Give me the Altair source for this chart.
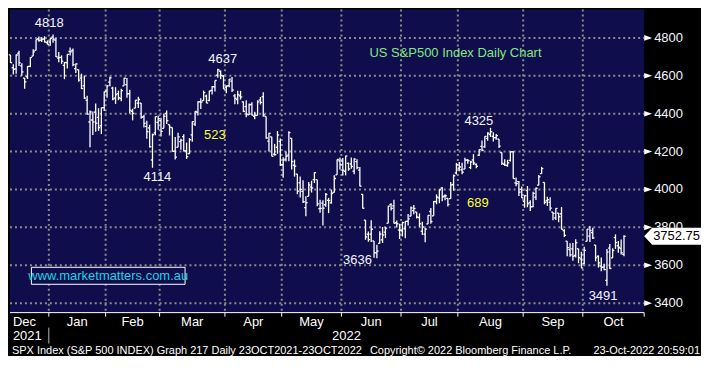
import altair as alt
import pandas as pd

# ---------------- data ----------------
trading_days = {
    "2021-12": [13, 14, 15, 16, 17, 20, 21, 22, 23, 27, 28, 29, 30, 31],
    "2022-01": [3, 4, 5, 6, 7, 10, 11, 12, 13, 14, 18, 19, 20, 21, 24, 25, 26, 27, 28, 31],
    "2022-02": [1, 2, 3, 4, 7, 8, 9, 10, 11, 14, 15, 16, 17, 18, 22, 23, 24, 25, 28],
    "2022-03": [1, 2, 3, 4, 7, 8, 9, 10, 11, 14, 15, 16, 17, 18, 21, 22, 23, 24, 25, 28, 29, 30, 31],
    "2022-04": [1, 4, 5, 6, 7, 8, 11, 12, 13, 14, 18, 19, 20, 21, 22, 25, 26, 27, 28, 29],
    "2022-05": [2, 3, 4, 5, 6, 9, 10, 11, 12, 13, 16, 17, 18, 19, 20, 23, 24, 25, 26, 27, 31],
    "2022-06": [1, 2, 3, 6, 7, 8, 9, 10, 13, 14, 15, 16, 17, 21, 22, 23, 24, 27, 28, 29, 30],
    "2022-07": [1, 5, 6, 7, 8, 11, 12, 13, 14, 15, 18, 19, 20, 21, 22, 25, 26, 27, 28, 29],
    "2022-08": [1, 2, 3, 4, 5, 8, 9, 10, 11, 12, 15, 16, 17, 18, 19, 22, 23, 24, 25, 26, 29, 30, 31],
    "2022-09": [1, 2, 6, 7, 8, 9, 12, 13, 14, 15, 16, 19, 20, 21, 22, 23, 26, 27, 28, 29, 30],
    "2022-10": [3, 4, 5, 6, 7, 10, 11, 12, 13, 14, 17, 18, 19, 20, 21],
}

opens = [
    4710.30, 4642.99, 4636.46, 4719.13, 4652.50, 4587.90, 4594.96, 4650.36, 4703.96, 4733.99, 4795.49, 4788.64, 4794.23, 4775.21,
    4778.14, 4804.51, 4787.99, 4693.39, 4697.66, 4655.34, 4669.14, 4728.59, 4733.56, 4637.99, 4632.24, 4588.03, 4547.35, 4471.38, 4356.32, 4366.64, 4408.43, 4380.58, 4336.19, 4431.79,
    4519.57, 4566.39, 4535.41, 4482.79, 4505.75, 4480.02, 4547.00, 4553.24, 4506.27, 4412.61, 4429.28, 4455.75, 4456.06, 4384.57, 4332.74, 4324.93, 4155.77, 4298.38, 4354.17,
    4363.14, 4322.56, 4401.31, 4342.12, 4327.01, 4202.66, 4223.10, 4252.55, 4279.50, 4202.75, 4188.82, 4288.14, 4345.11, 4407.34, 4462.40, 4469.10, 4493.10, 4469.98, 4522.66, 4541.09, 4602.86, 4624.20, 4599.02,
    4540.32, 4547.97, 4572.45, 4494.17, 4474.65, 4494.15, 4462.64, 4437.59, 4394.30, 4449.12, 4385.63, 4390.63, 4472.26, 4489.17, 4385.83, 4255.34, 4278.14, 4186.52, 4222.58, 4253.75,
    4130.61, 4159.78, 4181.18, 4270.43, 4128.17, 4081.27, 4035.18, 3990.08, 3903.95, 3963.90, 4013.02, 4052.00, 4051.98, 3899.00, 3927.76, 3919.42, 3942.94, 3929.59, 3984.60, 4077.43, 4151.09,
    4149.78, 4095.41, 4137.57, 4134.72, 4096.47, 4147.12, 4101.65, 3974.39, 3838.15, 3763.52, 3764.05, 3728.18, 3665.90, 3715.31, 3733.89, 3774.71, 3821.75, 3920.76, 3913.00, 3825.09, 3785.99,
    3781.00, 3792.61, 3831.98, 3858.85, 3888.26, 3880.94, 3851.95, 3779.67, 3763.99, 3818.00, 3883.79, 3860.73, 3935.32, 3955.47, 4007.39, 3965.72, 3953.22, 3951.43, 4026.13, 4087.33,
    4112.38, 4104.21, 4107.96, 4154.85, 4115.87, 4155.93, 4133.11, 4181.02, 4227.40, 4225.02, 4269.37, 4290.46, 4280.40, 4273.13, 4266.31, 4195.08, 4133.09, 4126.55, 4153.26, 4198.74, 4034.58, 4041.25, 4000.67,
    3936.73, 3994.66, 3930.89, 3909.43, 3959.94, 4022.94, 4083.67, 4037.12, 3940.73, 3932.41, 3880.95, 3849.91, 3875.23, 3871.40, 3782.36, 3727.14, 3682.72, 3686.44, 3651.94, 3687.01, 3633.48,
    3609.78, 3726.46, 3753.25, 3771.97, 3706.74, 3647.51, 3595.86, 3590.83, 3520.37, 3690.41, 3638.65, 3746.26, 3703.11, 3689.05, 3657.10,
]
highs = [
    4710.30, 4660.47, 4712.60, 4731.99, 4666.70, 4587.90, 4651.14, 4697.67, 4740.74, 4791.49, 4807.02, 4804.06, 4808.93, 4786.83,
    4796.64, 4818.62, 4797.70, 4725.01, 4707.95, 4673.02, 4714.13, 4748.83, 4744.13, 4665.13, 4632.24, 4611.55, 4602.11, 4494.52, 4417.35, 4411.01, 4453.23, 4428.74, 4432.72, 4516.89,
    4550.49, 4595.31, 4542.88, 4539.66, 4521.86, 4531.32, 4590.03, 4588.92, 4526.33, 4426.22, 4472.77, 4489.55, 4456.06, 4394.60, 4362.12, 4341.51, 4294.73, 4385.34, 4388.84,
    4378.45, 4401.48, 4416.78, 4342.12, 4327.01, 4276.94, 4299.40, 4268.28, 4291.01, 4247.57, 4271.05, 4358.90, 4412.67, 4465.40, 4481.75, 4522.00, 4501.07, 4520.58, 4546.03, 4575.65, 4637.30, 4627.77, 4603.07,
    4548.70, 4583.50, 4593.45, 4503.94, 4521.16, 4520.41, 4464.35, 4471.00, 4453.92, 4460.46, 4410.31, 4471.03, 4488.29, 4512.94, 4385.83, 4299.02, 4278.14, 4240.71, 4308.45, 4269.68,
    4169.81, 4200.10, 4307.66, 4270.43, 4157.69, 4081.27, 4068.82, 4049.09, 3964.80, 4038.88, 4046.46, 4090.72, 4051.98, 3945.96, 3943.42, 3981.88, 3955.68, 3999.33, 4075.14, 4158.49, 4168.34,
    4166.54, 4177.51, 4142.67, 4168.78, 4164.86, 4160.14, 4119.10, 3974.39, 3838.15, 3778.18, 3837.56, 3728.18, 3707.71, 3779.65, 3801.79, 3802.58, 3913.65, 3927.72, 3945.86, 3836.50, 3818.99,
    3829.82, 3832.19, 3870.91, 3910.63, 3918.50, 3880.94, 3873.41, 3829.44, 3796.41, 3863.62, 3902.44, 3939.81, 3974.13, 3999.29, 4012.44, 3975.30, 3953.22, 4039.56, 4078.95, 4140.15,
    4144.95, 4140.47, 4167.66, 4161.29, 4151.58, 4186.62, 4137.30, 4211.03, 4257.91, 4280.47, 4301.79, 4325.28, 4302.18, 4292.53, 4266.31, 4195.08, 4159.77, 4156.56, 4200.54, 4203.04, 4062.99, 4044.98, 4015.37,
    3970.23, 4018.43, 3942.55, 3987.89, 4010.50, 4076.81, 4119.28, 4037.12, 3961.94, 3959.14, 3880.95, 3900.45, 3876.01, 3907.07, 3790.28, 3727.14, 3715.67, 3717.53, 3736.74, 3687.01, 3671.44,
    3698.35, 3791.92, 3806.91, 3797.93, 3706.74, 3652.17, 3640.66, 3608.34, 3685.41, 3712.00, 3689.73, 3762.79, 3728.58, 3736.00, 3757.89,
]
lows = [
    4667.60, 4606.52, 4611.22, 4651.89, 4600.22, 4531.10, 4583.16, 4645.53, 4703.96, 4733.99, 4780.04, 4778.08, 4775.33, 4765.75,
    4758.17, 4774.27, 4699.44, 4671.26, 4662.74, 4582.24, 4638.27, 4706.71, 4650.29, 4614.75, 4568.70, 4530.20, 4477.95, 4395.34, 4222.62, 4287.11, 4304.80, 4309.50, 4292.46, 4414.02,
    4483.53, 4544.32, 4470.39, 4451.50, 4471.47, 4465.40, 4547.00, 4484.31, 4401.41, 4364.84, 4429.28, 4429.68, 4373.81, 4327.22, 4267.11, 4221.51, 4114.65, 4286.83, 4315.12,
    4279.54, 4322.56, 4345.56, 4284.98, 4199.85, 4157.87, 4223.10, 4209.80, 4200.49, 4161.72, 4187.90, 4251.99, 4335.65, 4390.57, 4424.30, 4469.10, 4455.81, 4465.17, 4501.07, 4517.69, 4589.66, 4581.32, 4530.41,
    4507.57, 4539.21, 4514.17, 4450.04, 4450.30, 4474.60, 4408.38, 4381.34, 4392.70, 4390.77, 4370.30, 4390.63, 4448.76, 4384.47, 4267.62, 4200.82, 4175.04, 4178.36, 4188.63, 4124.28,
    4062.51, 4147.08, 4148.91, 4106.01, 4067.91, 3975.48, 3958.17, 3928.82, 3858.87, 3963.90, 3983.99, 4033.93, 3911.91, 3876.58, 3810.32, 3909.04, 3875.13, 3925.03, 3984.60, 4077.43, 4104.88,
    4073.85, 4074.37, 4098.67, 4109.18, 4080.19, 4107.20, 4017.17, 3900.16, 3734.30, 3724.30, 3722.30, 3639.77, 3636.87, 3715.31, 3717.69, 3743.52, 3821.75, 3889.66, 3820.14, 3799.02, 3738.67,
    3752.10, 3742.06, 3809.37, 3858.85, 3869.34, 3847.22, 3802.36, 3759.07, 3721.56, 3817.18, 3818.63, 3860.73, 3922.03, 3927.64, 3938.24, 3943.46, 3910.74, 3951.43, 3992.97, 4079.22,
    4096.02, 4079.81, 4107.96, 4135.42, 4107.31, 4128.97, 4112.09, 4177.26, 4201.41, 4219.78, 4256.90, 4277.77, 4253.08, 4261.98, 4218.70, 4129.86, 4124.03, 4119.97, 4147.59, 4057.66, 4017.42, 3965.21, 3954.53,
    3903.65, 3906.21, 3886.75, 3906.03, 3944.81, 4022.94, 4083.67, 3921.82, 3912.15, 3888.28, 3837.08, 3838.50, 3827.54, 3789.49, 3749.45, 3647.47, 3644.76, 3623.29, 3640.61, 3610.40, 3584.13,
    3604.93, 3726.46, 3722.66, 3739.22, 3620.73, 3588.10, 3568.45, 3573.86, 3491.58, 3579.68, 3638.65, 3686.53, 3666.51, 3656.44, 3647.42,
]
closes = [
    4668.97, 4634.09, 4709.85, 4668.67, 4620.64, 4568.02, 4649.23, 4696.56, 4725.79, 4791.19, 4786.35, 4793.06, 4778.73, 4766.18,
    4796.56, 4793.54, 4700.58, 4696.05, 4677.03, 4670.29, 4713.07, 4726.35, 4659.03, 4662.85, 4577.11, 4532.76, 4482.73, 4397.94, 4410.13, 4356.45, 4349.93, 4326.51, 4431.85, 4515.55,
    4546.54, 4589.38, 4477.44, 4500.53, 4483.87, 4521.54, 4587.18, 4504.08, 4418.64, 4401.67, 4471.07, 4475.01, 4380.26, 4348.87, 4304.76, 4225.50, 4288.70, 4384.65, 4373.94,
    4306.26, 4386.54, 4363.49, 4328.87, 4201.09, 4170.70, 4277.88, 4259.52, 4204.31, 4173.11, 4262.45, 4357.86, 4411.67, 4463.12, 4461.18, 4511.61, 4456.24, 4520.16, 4543.06, 4575.52, 4631.60, 4602.45, 4530.41,
    4545.86, 4582.64, 4525.12, 4481.15, 4500.21, 4488.28, 4412.53, 4397.45, 4446.59, 4392.59, 4391.69, 4462.21, 4459.45, 4393.66, 4271.78, 4296.12, 4175.20, 4183.96, 4287.50, 4131.93,
    4155.38, 4175.48, 4300.17, 4146.87, 4123.34, 3991.24, 4001.05, 3935.18, 3930.08, 4023.89, 4008.01, 4088.85, 3923.68, 3900.79, 3901.36, 3973.75, 3941.48, 3978.73, 4057.84, 4158.24, 4132.15,
    4101.23, 4176.82, 4108.54, 4121.43, 4160.68, 4115.77, 4017.82, 3900.86, 3749.63, 3735.48, 3789.99, 3666.77, 3674.84, 3764.79, 3759.89, 3795.73, 3911.74, 3900.11, 3821.55, 3818.83, 3785.38,
    3825.33, 3831.39, 3845.08, 3902.62, 3899.38, 3854.43, 3818.80, 3801.78, 3790.38, 3863.16, 3830.85, 3936.69, 3959.90, 3998.95, 3961.63, 3966.84, 3921.05, 4023.61, 4072.43, 4130.29,
    4118.63, 4091.19, 4155.17, 4151.94, 4145.19, 4140.06, 4122.47, 4210.24, 4207.27, 4280.15, 4297.14, 4305.20, 4274.04, 4283.74, 4228.48, 4137.99, 4128.73, 4140.77, 4199.12, 4057.66, 4030.61, 3986.16, 3955.00,
    3966.85, 3924.26, 3908.19, 3979.87, 4006.18, 4067.36, 4110.41, 3932.69, 3946.01, 3901.35, 3873.33, 3899.89, 3855.93, 3789.93, 3757.99, 3693.23, 3655.04, 3647.29, 3719.04, 3640.47, 3585.62,
    3678.43, 3790.93, 3783.28, 3744.52, 3639.66, 3612.39, 3588.84, 3577.03, 3669.91, 3583.07, 3677.95, 3719.98, 3695.16, 3665.78, 3752.75,
]

y_ticks = [3400, 3600, 3800, 4000, 4200, 4400, 4600, 4800]
y_minor_ticks = list(range(3400, 5000, 100))

chart_title = "US S&P500 Index Daily Chart"
website = "www.marketmatters.com.au"
footer_left = "SPX Index (S&P 500 INDEX) Graph 217  Daily 23OCT2021-23OCT2022"
footer_mid = "Copyright\u00a9 2022 Bloomberg Finance L.P."
footer_right = "23-Oct-2022 20:59:01"

# ---------------- layout / style ----------------
W, H = 636, 304
FONT = "Liberation Sans"
NAVY = "#0f0d4c"
GRID = "#8c8c8c"
ANN = "#f2f5ff"
YELLOW = "#ffff33"
GREEN = "#80e880"
CYAN = "#22d2e2"
XDOM = [-0.17, 223.1]
YDOM = [3350, 4950]


def sx(px):
    return px * W / 652


def sy(py):
    return py * H / 321


dates = [f"{ym}-{d:02d}" for ym, days in trading_days.items() for d in days]
n = len(dates)
assert all(len(a) == n for a in (opens, highs, lows, closes))

df = pd.DataFrame({
    "i": range(n),
    "date": pd.to_datetime(dates),
    "open": opens, "high": highs, "low": lows, "close": closes,
})
df["ym"] = df["date"].dt.strftime("%Y-%m")
df["mon"] = df["date"].dt.strftime("%b")
df["yr"] = df["date"].dt.strftime("%Y")

first_idx = df.groupby("ym")["i"].min().sort_index()
boundaries = [v - 0.5 for v in first_idx.values[1:]]
month_names = [df.loc[df["ym"] == ym, "mon"].iloc[0] for ym in first_idx.index]
starts = [XDOM[0]] + boundaries
ends = boundaries + [XDOM[1]]
mdf = pd.DataFrame({"m": month_names, "xm": [(a + b) / 2 for a, b in zip(starts, ends)]})

yr_first = df.groupby("yr")["i"].min().sort_index()
year_bounds = [v - 0.5 for v in yr_first.values[1:]]
years = list(yr_first.index)

xs = alt.Scale(domain=XDOM, nice=False, zero=False)
ys = alt.Scale(domain=YDOM, nice=False, zero=False)


def X(f):
    return alt.X(f, type="quantitative", scale=xs, axis=None)


def Y(f):
    return alt.Y(f, type="quantitative", scale=ys, axis=None)


one = pd.DataFrame({"a": [0]})

yaxis = alt.Axis(
    orient="right", values=y_minor_ticks, labels=False,
    tickSize=5, tickColor="white", tickWidth=1,
    domainColor="white", domainWidth=1,
    grid=False, title=None,
)

# gridlines
ygrid = alt.Chart(pd.DataFrame({"v": y_ticks})).mark_rule(
    color=GRID, strokeWidth=2, strokeDash=[2, 3]
).encode(y=Y("v"), x=alt.value(0), x2=alt.value(W))

bdf = pd.DataFrame({"b": boundaries})
vgrid = alt.Chart(bdf).mark_rule(
    color=GRID, strokeWidth=2, strokeDash=[2, 3]
).encode(x=X("b"), y=alt.value(0), y2=alt.value(H))

# OHLC bars
BW = 1.3
base = alt.Chart(df)
hl = base.mark_rule(color="white", strokeWidth=BW).encode(
    x=X("i"), y=alt.Y("low:Q", scale=ys, axis=yaxis), y2="high:Q"
)
op = base.transform_calculate(xo="datum.i - 0.6").mark_rule(color="white", strokeWidth=BW).encode(
    x=X("xo"), x2="i:Q", y=Y("open")
)
cl = base.transform_calculate(xc="datum.i + 0.6").mark_rule(color="white", strokeWidth=BW).encode(
    x=X("i"), x2="xc:Q", y=Y("close")
)

# bottom axis
xline = alt.Chart(one).mark_rule(color="white", strokeWidth=1).encode(
    x=alt.value(0), x2=alt.value(W), y=alt.value(H)
)
xticks = alt.Chart(bdf).mark_rule(color="white", strokeWidth=1).encode(
    x=X("b"), y=alt.value(H), y2=alt.value(H + 4)
)
corner_tick = alt.Chart(one).mark_rule(color="white", strokeWidth=1).encode(
    x=alt.value(W), y=alt.value(H), y2=alt.value(H + 4)
)
ysep = alt.Chart(pd.DataFrame({"b": year_bounds})).mark_rule(color="#b8b8b8", strokeWidth=1).encode(
    x=X("b"), y=alt.value(H + 15), y2=alt.value(H + 31)
)

txt = dict(font=FONT, fontSize=13, baseline="middle")

# right-axis labels
ylab = alt.Chart(pd.DataFrame({"v": y_ticks})).mark_text(align="left", color="#f4f6ff", **txt).encode(
    x=alt.value(W + 10), y=Y("v"), text=alt.Text("v:Q", format="d")
)

mfirst = alt.Chart(mdf.head(1)).mark_text(align="left", color="white", **txt).encode(
    x=alt.value(sx(3)), y=alt.value(H + 9), text="m:N"
)
mrest = alt.Chart(mdf.iloc[1:]).mark_text(align="center", color="white", **txt).encode(
    x=X("xm"), y=alt.value(H + 9), text="m:N"
)
y1 = alt.Chart(pd.DataFrame({"y": years[:1]})).mark_text(align="left", color="white", **txt).encode(
    x=alt.value(sx(3)), y=alt.value(H + 23), text="y:N"
)
y2df = pd.DataFrame({"y": years[1:], "xm": [(year_bounds[0] + XDOM[1]) / 2]})
y2 = alt.Chart(y2df).mark_text(align="center", color="white", **txt).encode(
    x=X("xm"), y=alt.value(H + 23), text="y:N"
)


# annotations derived from data
def extreme(col, start, end, fn):
    sub = df[(df["ym"] >= start) & (df["ym"] <= end)]
    row = sub.loc[sub[col].idxmax()] if fn == "max" else sub.loc[sub[col].idxmin()]
    return int(row["i"]), float(row[col])


pk1 = extreme("high", "2021-12", "2022-01", "max")
tr1 = extreme("low", "2022-02", "2022-02", "min")
pk2 = extreme("high", "2022-03", "2022-04", "max")
tr2 = extreme("low", "2022-06", "2022-06", "min")
pk3 = extreme("high", "2022-08", "2022-08", "max")
tr3 = extreme("low", "2022-10", "2022-10", "min")

annotations = [
    (pk1, str(int(pk1[1])), ANN, -4, -12),
    (pk2, str(int(pk2[1])), ANN, 5, -10.5),
    (tr1, str(int(tr1[1])), ANN, 5, 10),
    (pk3, str(int(pk3[1])), ANN, -12, -7),
    (tr2, str(int(tr2[1])), ANN, -20, 2),
    (tr3, str(int(tr3[1])), ANN, -4, 11),
    (pk2, str(int(pk2[1]) - int(tr1[1])), YELLOW, -3, 70.5),
    (pk3, str(int(pk3[1]) - int(tr2[1])), YELLOW, -13, 80),
]
ann_layers = []
for (ix, val), label, color, dx, dy in annotations:
    adf = pd.DataFrame({"x": [ix], "v": [val], "t": [label]})
    ann_layers.append(
        alt.Chart(adf).mark_text(align="center", color=color, dx=sx(dx), dy=sy(dy), **txt).encode(
            x=X("x"), y=Y("v"), text="t:N"
        )
    )

title = alt.Chart(pd.DataFrame({"t": [chart_title]})).mark_text(align="center", color=GREEN, **txt).encode(
    x=alt.value(sx(458)), y=alt.value(sy(46)), text="t:N"
)
web_box = alt.Chart(one).mark_rect(fill=NAVY, stroke="white", strokeWidth=1).encode(
    x=alt.value(sx(22)), x2=alt.value(sx(180)), y=alt.value(sy(273)), y2=alt.value(sy(291))
)
web_txt = alt.Chart(pd.DataFrame({"t": [website]})).mark_text(align="center", color=CYAN, **txt).encode(
    x=alt.value(sx(101)), y=alt.value(sy(282)), text="t:N"
)

# right-axis markers
TRI = "M0,-0.35L1,0L0,0.35Z"
tri = alt.Chart(pd.DataFrame({"v": y_ticks})).mark_point(
    shape=TRI, size=256, filled=True, color="white", opacity=1
).encode(x=alt.value(W), y=Y("v"))

# last price box
last = df.tail(1)
BOX = "M-1,0L-0.72,-0.298L1,-0.298L1,0.298L-0.72,0.298Z"
pbox = alt.Chart(last).mark_point(shape=BOX, size=3249, filled=True, color="white", opacity=1).encode(
    x=alt.value(W + 28.5), y=Y("close")
)
ptxt = alt.Chart(last).mark_text(align="left", color="black", **txt).encode(
    x=alt.value(W + 9), y=Y("close"), text=alt.Text("close:Q", format=".2f")
)

ftxt = dict(font=FONT, fontSize=11, baseline="middle", color="white")
f1 = alt.Chart(pd.DataFrame({"t": [footer_left]})).mark_text(align="left", **ftxt).encode(
    x=alt.value(2), y=alt.value(H + 38), text="t:N"
)
f2 = alt.Chart(pd.DataFrame({"t": [footer_mid]})).mark_text(align="left", **ftxt).encode(
    x=alt.value(sx(370)), y=alt.value(H + 38), text="t:N"
)
f3 = alt.Chart(pd.DataFrame({"t": [footer_right]})).mark_text(align="right", **ftxt).encode(
    x=alt.value(W + 56), y=alt.value(H + 38), text="t:N"
)

chart = alt.layer(
    ygrid, vgrid, hl, op, cl, xline, xticks, corner_tick, ysep,
    mfirst, mrest, y1, y2, *ann_layers, title, web_box, web_txt,
    tri, ylab, pbox, ptxt, f1, f2, f3,
).properties(
    width=W, height=H, background="black", padding=0
).configure_view(fill=NAVY, stroke=None)

chart.save("out.html", embed_options={"renderer": "svg", "actions": False})
